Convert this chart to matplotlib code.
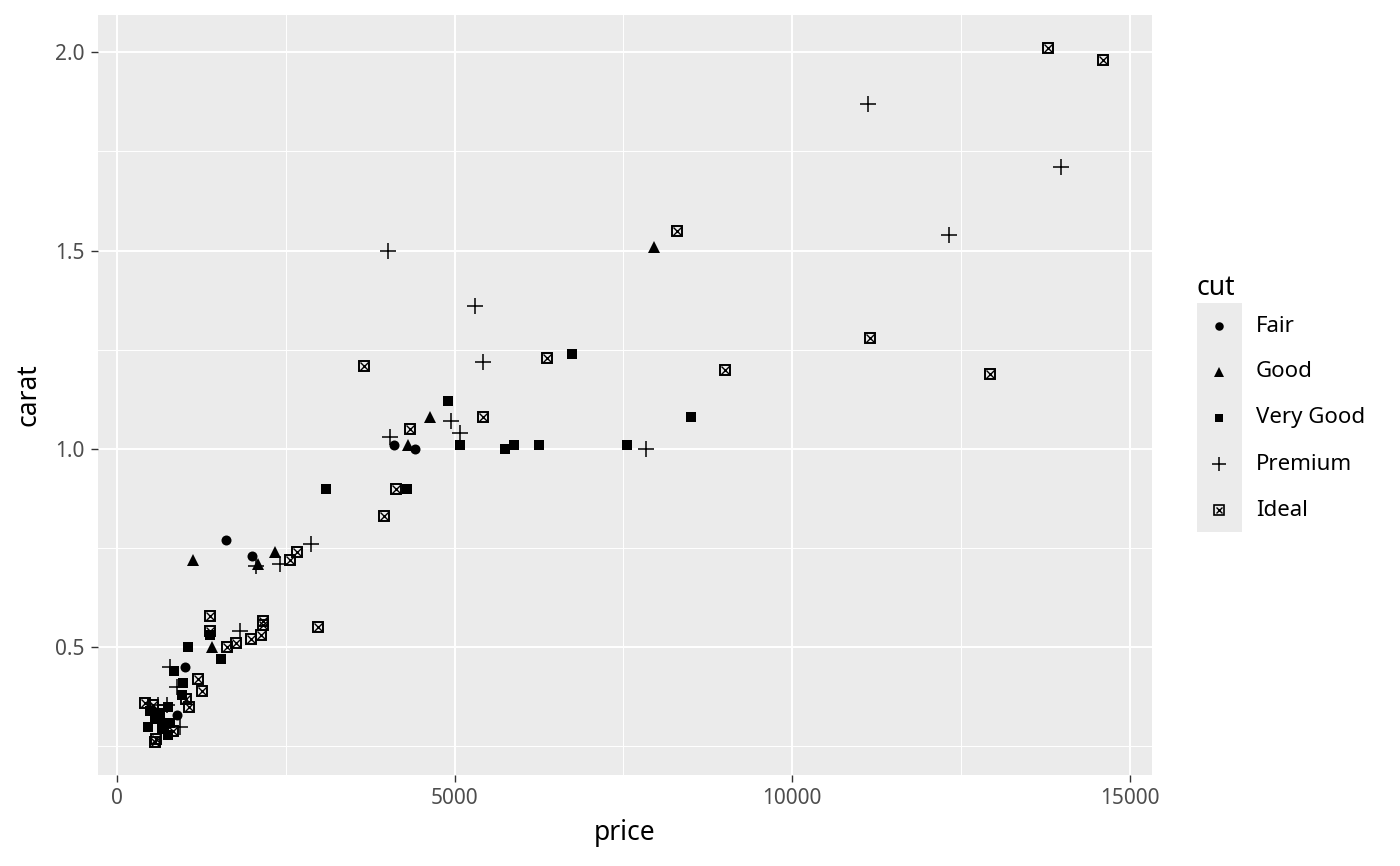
import matplotlib
matplotlib.use("Agg")
import matplotlib.pyplot as plt
from matplotlib.lines import Line2D
from matplotlib.patches import Rectangle

plt.rcParams["font.family"] = ["Noto Sans", "DejaVu Sans"]

cuts = ["Fair", "Good", "Very Good", "Premium", "Ideal"]

fair_price = [1619, 1999, 4102, 4413, 1007, 884, 637]
fair_carat = [0.77, 0.73, 1.01, 1.00, 0.45, 0.33, 0.32]

good_price = [7953, 4636, 4310, 1130, 2093, 2340, 1411, 700]
good_carat = [1.51, 1.08, 1.01, 0.72, 0.71, 0.74, 0.50, 0.31]

vgood_price = [4902, 5080, 5746, 5880, 6250, 6739, 7553, 8501, 3095, 4295,
               1056, 1377, 1536, 844, 982, 958, 760, 464, 760, 563, 667,
               489, 785, 637]
vgood_carat = [1.12, 1.01, 1.00, 1.01, 1.01, 1.24, 1.01, 1.08, 0.90, 0.90,
               0.50, 0.53, 0.47, 0.44, 0.41, 0.38, 0.35, 0.30, 0.28, 0.32, 0.295,
               0.34, 0.31, 0.335]

prem_price = [11127, 13973, 12322, 4013, 5302, 5421, 4947, 5080, 4043, 7835,
              2873, 2059, 2414, 1822, 785, 884, 612, 736, 933]
prem_carat = [1.87, 1.71, 1.54, 1.50, 1.36, 1.22, 1.07, 1.04, 1.03, 1.00,
              0.76, 0.705, 0.71, 0.54, 0.45, 0.40, 0.355, 0.355, 0.30]

ideal_price = [13788, 14603, 8294, 11152, 12929, 9005, 6369, 5421, 3658, 4339,
               4132, 3954, 2981, 2562, 2661, 1377, 1377, 1634, 1758, 1985,
               2128, 2167, 2167, 1204, 1263, 1022, 1071, 415, 529, 834, 578, 563]
ideal_carat = [2.01, 1.98, 1.55, 1.28, 1.19, 1.20, 1.23, 1.08, 1.21, 1.05,
               0.90, 0.83, 0.55, 0.72, 0.74, 0.58, 0.54, 0.50, 0.51, 0.52,
               0.53, 0.565, 0.556, 0.42, 0.39, 0.37, 0.35, 0.36, 0.355, 0.29,
               0.27, 0.26]

x_ticks = [0, 5000, 10000, 15000]
y_ticks = [0.5, 1.0, 1.5, 2.0]
y_labels = ["0.5", "1.0", "1.5", "2.0"]

W, H = 1400, 866
fig = plt.figure(figsize=(W / 100, H / 100), dpi=100)
ax = fig.add_axes([98 / W, 1 - 775 / H, (1152 - 98) / W, (775 - 15) / H])
ax.set_facecolor("#EBEBEB")
for s in ax.spines.values():
    s.set_visible(False)

ax.set_xlim(-281, 15328)
ax.set_ylim(0.178, 2.094)
ax.set_xticks(x_ticks)
ax.set_xticklabels([str(v) for v in x_ticks])
ax.set_yticks(y_ticks)
ax.set_yticklabels(y_labels)
ax.set_xticks([2500, 7500, 12500], minor=True)
ax.set_yticks([0.25, 0.75, 1.25, 1.75], minor=True)
ax.grid(which="major", color="white", linewidth=1.4)
ax.grid(which="minor", color="white", linewidth=0.7)
ax.set_axisbelow(True)
ax.tick_params(which="major", length=5, width=1, color="#333333",
               labelcolor="#4D4D4D", labelsize=15, pad=4.5)
ax.tick_params(which="minor", length=0)
ax.set_xlabel("price", fontsize=19, labelpad=7)
ax.set_ylabel("carat", fontsize=19, labelpad=9)

# marker styles per cut
styles = {
    "Fair": dict(marker="o", ms=7.2, mfc="black", mec="black", mew=0),
    "Good": dict(marker="^", ms=9, mfc="black", mec="black", mew=0),
    "Very Good": dict(marker="s", ms=7.6, mfc="black", mec="black", mew=0),
    "Premium": dict(marker="+", ms=11.5, mec="black", mew=1.1),
}
ideal_box = dict(marker="s", ms=7.6, mfc="none", mec="black", mew=1.4)
ideal_x = dict(marker="x", ms=5.2, mec="black", mew=1.0)

data = {
    "Fair": (fair_price, fair_carat),
    "Good": (good_price, good_carat),
    "Very Good": (vgood_price, vgood_carat),
    "Premium": (prem_price, prem_carat),
}
for cut, (px, py) in data.items():
    ax.plot(px, py, linestyle="none", **styles[cut])
ax.plot(ideal_price, ideal_carat, linestyle="none", **ideal_box)
ax.plot(ideal_price, ideal_carat, linestyle="none", **ideal_x)

# legend, drawn ggplot-style
fig.text(1197 / W, 1 - 288 / H, "cut", fontsize=19, ha="left", va="center")
fig.add_artist(Rectangle((1197 / W, 1 - 532 / H), 45 / W, 229 / H,
                         transform=fig.transFigure, facecolor="#EBEBEB",
                         edgecolor="none"))
for i, cut in enumerate(cuts):
    yk = 1 - (326 + 46 * i) / H
    xk = 1219 / W
    if cut == "Ideal":
        fig.add_artist(Line2D([xk], [yk], transform=fig.transFigure,
                              linestyle="none", **dict(ideal_box, ms=7, mew=1.2)))
        fig.add_artist(Line2D([xk], [yk], transform=fig.transFigure,
                              linestyle="none", **dict(ideal_x, ms=4.8)))
    else:
        st = dict(styles[cut])
        st["ms"] = st["ms"] * 0.85
        fig.add_artist(Line2D([xk], [yk], transform=fig.transFigure,
                              linestyle="none", **st))
    fig.text(1256 / W, yk, cut, fontsize=16, ha="left", va="center")

fig.savefig("out.png", dpi=100)
